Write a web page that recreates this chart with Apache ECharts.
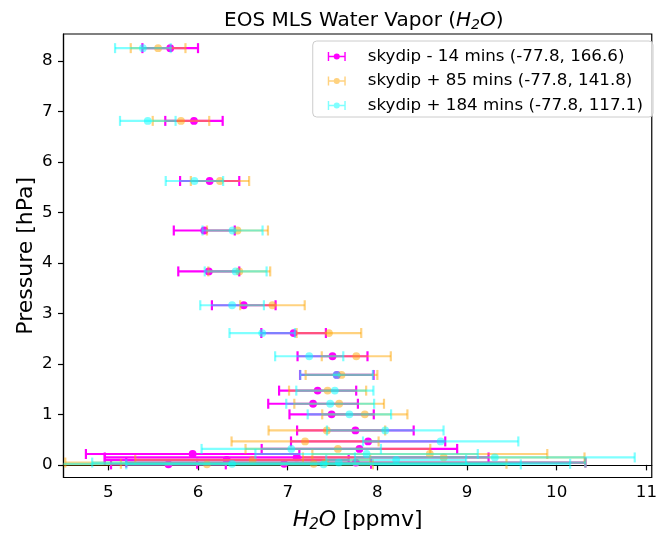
<!DOCTYPE html>
<html><head><meta charset="utf-8">
<script src="https://cdn.jsdelivr.net/npm/echarts@6/dist/echarts.min.js"></script>
<style>html,body{margin:0;padding:0;background:#fff}#c{width:660px;height:538px}</style>
</head><body><div id="c"></div>
<script>
// Pressure levels [hPa]
const pressure = [8.25, 6.81, 5.62, 4.64, 3.83, 3.16, 2.61, 2.15, 1.78, 1.47, 1.21, 1.0, 0.681, 0.464, 0.316, 0.215, 0.147, 0.1, 0.0464, 0.0215, 0.01];
// skydip - 14 mins
const magentaVal = [5.69, 5.955, 6.13, 6.07, 6.12, 6.51, 7.066, 7.50, 7.548, 7.334, 7.283, 7.49, 7.755, 7.897, 7.80, 5.94, 7.10, 6.32, 7.76, 6.96, 5.67];
const magentaErr = [0.31, 0.32, 0.33, 0.34, 0.34, 0.355, 0.36, 0.39, 0.41, 0.43, 0.50, 0.47, 0.65, 0.86, 1.09, 1.19, 2.14, 1.36, 2.56, 0.97, 0.64];
// skydip + 85 mins
const orangeVal = [5.555, 5.81, 6.245, 6.44, 6.46, 6.83, 7.46, 7.765, 7.60, 7.445, 7.574, 7.86, 7.437, 7.194, 7.56, 8.585, 8.74, 6.61, 7.42, 7.29, 6.10];
const orangeErr = [0.305, 0.315, 0.325, 0.34, 0.345, 0.36, 0.36, 0.385, 0.40, 0.43, 0.50, 0.475, 0.65, 0.82, 1.03, 1.31, 1.57, 1.31, 2.9, 2.15, 1.85];
// skydip + 184 mins
const cyanVal = [5.385, 5.44, 5.96, 6.385, 6.42, 6.38, 6.716, 7.24, 7.545, 7.526, 7.474, 7.688, 8.088, 8.706, 7.04, 7.88, 9.31, 8.21, 7.57, 6.38, 7.40];
const cyanErr = [0.31, 0.31, 0.32, 0.335, 0.345, 0.355, 0.365, 0.38, 0.405, 0.43, 0.49, 0.465, 0.65, 0.866, 1.0, 1.24, 1.56, 0.78, 2.75, 3.77, 2.2];

const seriesNames = ['skydip - 14 mins (-77.8, 166.6)', 'skydip + 85 mins (-77.8, 141.8)', 'skydip + 184 mins (-77.8, 117.1)'];
const xTicks = [5, 6, 7, 8, 9, 10, 11];
const yTicks = [0, 1, 2, 3, 4, 5, 6, 7, 8];

const FONT = 'DejaVu Sans';
const ICON = 'path://M0,0h1.6v10h-1.6z M18.4,0h1.6v10h-1.6z M0,4.2h20v1.6h-20z M13.4,5A3.4,3.4 0 1 1 6.6,5A3.4,3.4 0 1 1 13.4,5z';

function errSeries(name, vals, errs, color, opacity) {
  return {
    type: 'custom',
    name: name,
    data: pressure.map((p, i) => [vals[i], p, errs[i]]),
    encode: { x: 0, y: 1 },
    itemStyle: { color: color, opacity: opacity },
    renderItem: function (params, api) {
      const v = api.value(0), p = api.value(1), e = api.value(2);
      const c = api.coord([v, p]);
      const lo = api.coord([v - e, p]);
      const hi = api.coord([v + e, p]);
      const cs = params.coordSys;
      const xl = Math.max(lo[0], cs.x), xr = Math.min(hi[0], cs.x + cs.width);
      const kids = [];
      kids.push({ type: 'line', shape: { x1: xl, y1: c[1], x2: xr, y2: c[1] }, style: { stroke: color, lineWidth: 2.2, opacity: opacity } });
      [lo[0], hi[0]].forEach(function (x) {
        if (x >= cs.x && x <= cs.x + cs.width) {
          kids.push({ type: 'line', shape: { x1: x, y1: c[1] - 5, x2: x, y2: c[1] + 5 }, style: { stroke: color, lineWidth: 2.2, opacity: opacity } });
        }
      });
      kids.push({ type: 'circle', shape: { cx: c[0], cy: c[1], r: 3.9 }, style: { fill: color, opacity: opacity } });
      return { type: 'group', children: kids };
    }
  };
}

const chart = echarts.init(document.getElementById('c'), null, { renderer: 'canvas' });
chart.setOption({
  animation: false,
  backgroundColor: '#fff',
  textStyle: { fontFamily: FONT },
  title: {
    text: 'EOS MLS Water Vapor ({i|H}{s|2}{i|O})',
    left: 219, top: 4,
    textStyle: {
      fontFamily: FONT, fontSize: 20, fontWeight: 'normal', color: '#000',
      rich: {
        i: { fontFamily: FONT, fontSize: 20, fontStyle: 'italic', color: '#000' },
        s: { fontFamily: FONT, fontSize: 14, fontStyle: 'italic', color: '#000', padding: [9, 0, 0, 0] }
      }
    }
  },
  grid: { left: 63.5, right: 2.5, top: 34, bottom: 60.5, show: true, borderColor: '#000', borderWidth: 1.2, backgroundColor: 'transparent' },
  legend: {
    orient: 'vertical', right: 7, top: 41,
    backgroundColor: 'rgba(255,255,255,0.8)', borderColor: '#cccccc', borderWidth: 1, borderRadius: 4,
    padding: [7, 10, 3, 15], itemGap: 7.5, itemWidth: 18, itemHeight: 9,
    textStyle: { fontFamily: FONT, fontSize: 16.7, color: '#000', padding: [0, 0, 0, 17] },
    data: [
      { name: seriesNames[0], icon: ICON, itemStyle: { color: '#ff00ff', opacity: 1 } },
      { name: seriesNames[1], icon: ICON, itemStyle: { color: '#ffa500', opacity: 0.5 } },
      { name: seriesNames[2], icon: ICON, itemStyle: { color: '#00ffff', opacity: 0.5 } }
    ]
  },
  xAxis: {
    type: 'value', min: 4.5, max: 11.06,
    name: '{i|H}{s|2}{i|O} [ppmv]', nameLocation: 'middle', nameGap: 30, nameMoveOverlap: false,
    nameTextStyle: {
      fontFamily: FONT, fontSize: 22, color: '#000',
      rich: {
        i: { fontFamily: FONT, fontSize: 22, fontStyle: 'italic', color: '#000' },
        s: { fontFamily: FONT, fontSize: 15, fontStyle: 'italic', color: '#000', padding: [10, 0, 0, 0] }
      }
    },
    axisLine: { show: true, lineStyle: { color: '#000', width: 1.2 } },
    axisTick: { show: true, inside: false, length: 5.5, lineStyle: { color: '#000', width: 1.2 }, customValues: xTicks },
    axisLabel: { color: '#000', fontSize: 16.7, fontFamily: FONT, margin: 7, customValues: xTicks, formatter: v => String(v) },
    splitLine: { show: false }
  },
  yAxis: {
    type: 'value', min: -0.25, max: 8.53,
    name: 'Pressure [hPa]', nameLocation: 'middle', nameGap: 26.5, nameRotate: 90, nameMoveOverlap: false,
    nameTextStyle: { fontFamily: FONT, fontSize: 22, color: '#000' },
    axisLine: { show: true, lineStyle: { color: '#000', width: 1.2 } },
    axisTick: { show: true, inside: false, length: 5.5, lineStyle: { color: '#000', width: 1.2 }, customValues: yTicks },
    axisLabel: { color: '#000', fontSize: 16.7, fontFamily: FONT, margin: 11, customValues: yTicks, formatter: v => String(v) },
    splitLine: { show: false }
  },
  series: [
    errSeries(seriesNames[0], magentaVal, magentaErr, '#ff00ff', 1),
    errSeries(seriesNames[1], orangeVal, orangeErr, '#ffa500', 0.5),
    errSeries(seriesNames[2], cyanVal, cyanErr, '#00ffff', 0.5)
  ]
});
</script>
</body></html>
